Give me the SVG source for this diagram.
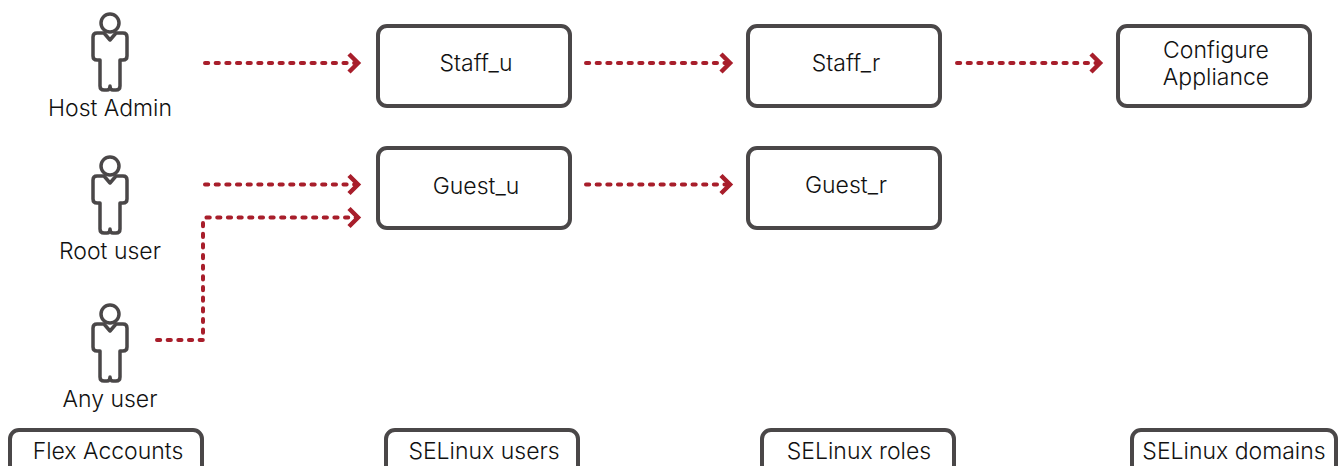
<svg xmlns="http://www.w3.org/2000/svg" width="1338" height="466" viewBox="0 0 1338 466">
<style>
.box{fill:#fff;stroke:#4a4748;stroke-width:4}
.ic{fill:none;stroke:#4a4748;stroke-width:3.5;stroke-linejoin:round}
.t{font-family:"Inter","Liberation Sans",sans-serif;font-weight:300;font-size:23px;fill:#111;text-anchor:middle}
.c{fill:none;stroke:#a81e2b;stroke-width:4;stroke-linecap:round;stroke-dasharray:3.2 7.45}
.h{fill:none;stroke:#a81e2b;stroke-width:4.5;stroke-linejoin:miter}
</style>
<defs>
<g id="person">
<circle cx="0" cy="-9" r="9" class="ic"/>
<path class="ic" d="M-6 1H-13Q-17 1-17 5V24Q-17 28-13 28H-10V54Q-10 58-6 58H-3Q0 58 0 54Q0 58 3 58H6Q10 58 10 54V28H13Q17 28 17 24V5Q17 1 13 1H6L0 8Z"/>
</g>
</defs>
<g id="connectors">
<path class="c" d="M205 63H356"/><path class="h" d="M349 54l9 9l-9 9"/>
<path class="c" d="M586 63H728"/><path class="h" d="M721 54l9 9l-9 9"/>
<path class="c" d="M957 63H1098"/><path class="h" d="M1091 54l9 9l-9 9"/>
<path class="c" d="M205 184.500H356"/><path class="h" d="M349 175.500l9 9l-9 9"/>
<path class="c" d="M586 184.500H728"/><path class="h" d="M721 175.500l9 9l-9 9"/>
<path class="c" d="M157 340H203V221.500Q203 217.500 207 217.500H356"/><path class="h" d="M349 208.500l9 9l-9 9"/>
</g>
<g id="host-admin"><use href="#person" x="110" y="32"/><text class="t" x="110" y="115.500">Host Admin</text></g>
<g id="root-user"><use href="#person" x="110" y="175"/><text class="t" x="110" y="258.500">Root user</text></g>
<g id="any-user"><use href="#person" x="110" y="323"/><text class="t" x="110" y="406.500">Any user</text></g>
<g id="staff-u"><rect class="box" x="378" y="26" width="192" height="80" rx="9"/><text class="t" x="476" y="71">Staff_u</text></g>
<g id="staff-r"><rect class="box" x="748" y="26" width="192" height="80" rx="9"/><text class="t" x="846" y="71">Staff_r</text></g>
<g id="configure-appliance"><rect class="box" x="1118" y="26" width="192" height="80" rx="9"/><text class="t" x="1216" y="58">Configure</text><text class="t" x="1216" y="85">Appliance</text></g>
<g id="guest-u"><rect class="box" x="378" y="148" width="192" height="80" rx="9"/><text class="t" x="476" y="194">Guest_u</text></g>
<g id="guest-r"><rect class="box" x="748" y="148" width="192" height="80" rx="9"/><text class="t" x="846" y="193">Guest_r</text></g>
<g id="flex-accounts"><rect class="box" x="10" y="430" width="192" height="60" rx="9"/><text class="t" x="108" y="459">Flex Accounts</text></g>
<g id="selinux-users"><rect class="box" x="386" y="430" width="192" height="60" rx="9"/><text class="t" x="484" y="459">SELinux users</text></g>
<g id="selinux-roles"><rect class="box" x="762" y="430" width="192" height="60" rx="9"/><text class="t" x="859" y="459">SELinux roles</text></g>
<g id="selinux-domains"><rect class="box" x="1132" y="430" width="204" height="60" rx="9"/><text class="t" x="1234" y="459">SELinux domains</text></g>
</svg>
